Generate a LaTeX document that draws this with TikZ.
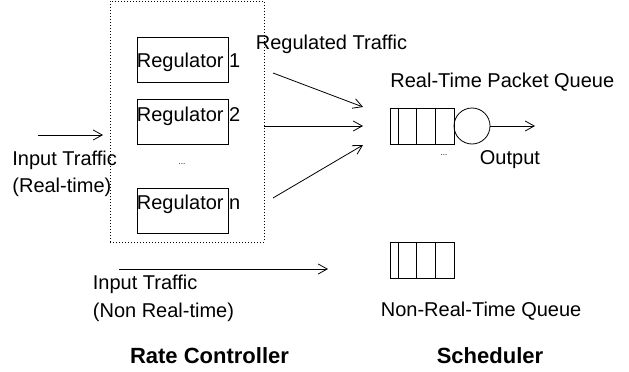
\documentclass[tikz,border=0pt]{standalone}
\usepackage{fontspec}
\setmainfont{Liberation Sans}
\usetikzlibrary{arrows.meta,positioning}
\tikzset{
  lbl/.style    ={anchor=west,inner sep=0pt,align=left,font=\fontsize{20}{27.5}\selectfont},
  title/.style  ={inner sep=0pt,font=\fontsize{22}{26}\selectfont\bfseries},
  regbox/.style ={rectangle,draw,minimum width=91pt,minimum height=45pt,inner sep=0pt},
  ctrlbox/.style={rectangle,draw,dash pattern=on 1pt off 2pt,minimum width=154pt,minimum height=241pt,inner sep=0pt},
  qbox/.style   ={rectangle,draw,minimum width=64pt,minimum height=36pt,inner sep=0pt},
  server/.style ={circle,draw,minimum size=36pt,inner sep=0pt},
  flow/.style   ={-{Straight Barb[length=9pt,width=10pt]}},
  dots/.style   ={inner sep=0pt,font=\fontsize{8}{8}\selectfont},
}
\begin{document}
\begin{tikzpicture}[x=1pt,y=-1pt,line width=0.8pt]
  \useasboundingbox (0,0) rectangle (629,372);
  % rate controller
  \node[ctrlbox] (ctrl) at (187,121.5){};
  \node[regbox] (reg1) at (182.5,59.5){};   \node[lbl] (reg1l) at (136.5,62){Regulator 1};
  \node[regbox] (reg2) at (182.5,121.5){};  \node[lbl] (reg2l) at (136.5,116){Regulator 2};
  \node[regbox] (regn) at (182.5,211){};    \node[lbl] (regnl) at (136.5,204){Regulator n};
  \node[dots] (regdots) at (182,164){...};
  \node[lbl] (rtin) at (12,174){Input Traffic\\(Real-time)};
  \coordinate (rtsrc) at (38,135); \coordinate (rtdst) at (103,135);
  \draw[flow] (rtsrc) -- (rtdst);
  \node[lbl] (regtr) at (255.5,44){Regulated Traffic};
  % scheduler
  \node[qbox] (rtq) at (422,126){};
  \foreach \d in {9,27,46}{\draw ([xshift=\d pt]rtq.north west) -- ([xshift=\d pt]rtq.south west);}
  \node[server] (srv) at (472,126){};
  \coordinate (out) at (535,126);
  \draw[flow] (srv.east) -- (out);
  \node[dots] (qdots) at (444,155){...};
  \node[lbl] (outl) at (479.5,160){Output};
  \node[lbl] (rtql) at (390,82){Real-Time Packet Queue};
  \coordinate (r1) at (273,73);  \coordinate (q1) at (363,107);
  \coordinate (r2) at (264,126); \coordinate (q2) at (363,126);
  \coordinate (r3) at (273,198); \coordinate (q3) at (363,145);
  \foreach \i in {1,2,3}{\draw[flow] (r\i) -- (q\i);}
  % non real-time
  \node[qbox] (nrtq) at (422,260){};
  \foreach \d in {9,27,46}{\draw ([xshift=\d pt]nrtq.north west) -- ([xshift=\d pt]nrtq.south west);}
  \coordinate (nsrc) at (119,269); \coordinate (ndst) at (328,269);
  \draw[flow] (nsrc) -- (ndst);
  \node[lbl] (nrtin) at (92.5,298.5){Input Traffic\\(Non Real-time)};
  \node[lbl] (nrtql) at (380.5,311){Non-Real-Time Queue};
  \node[title] (rctl) at (209.5,356){Rate Controller};
  \node[title] (schl) at (490,356){Scheduler};
\end{tikzpicture}
\end{document}
